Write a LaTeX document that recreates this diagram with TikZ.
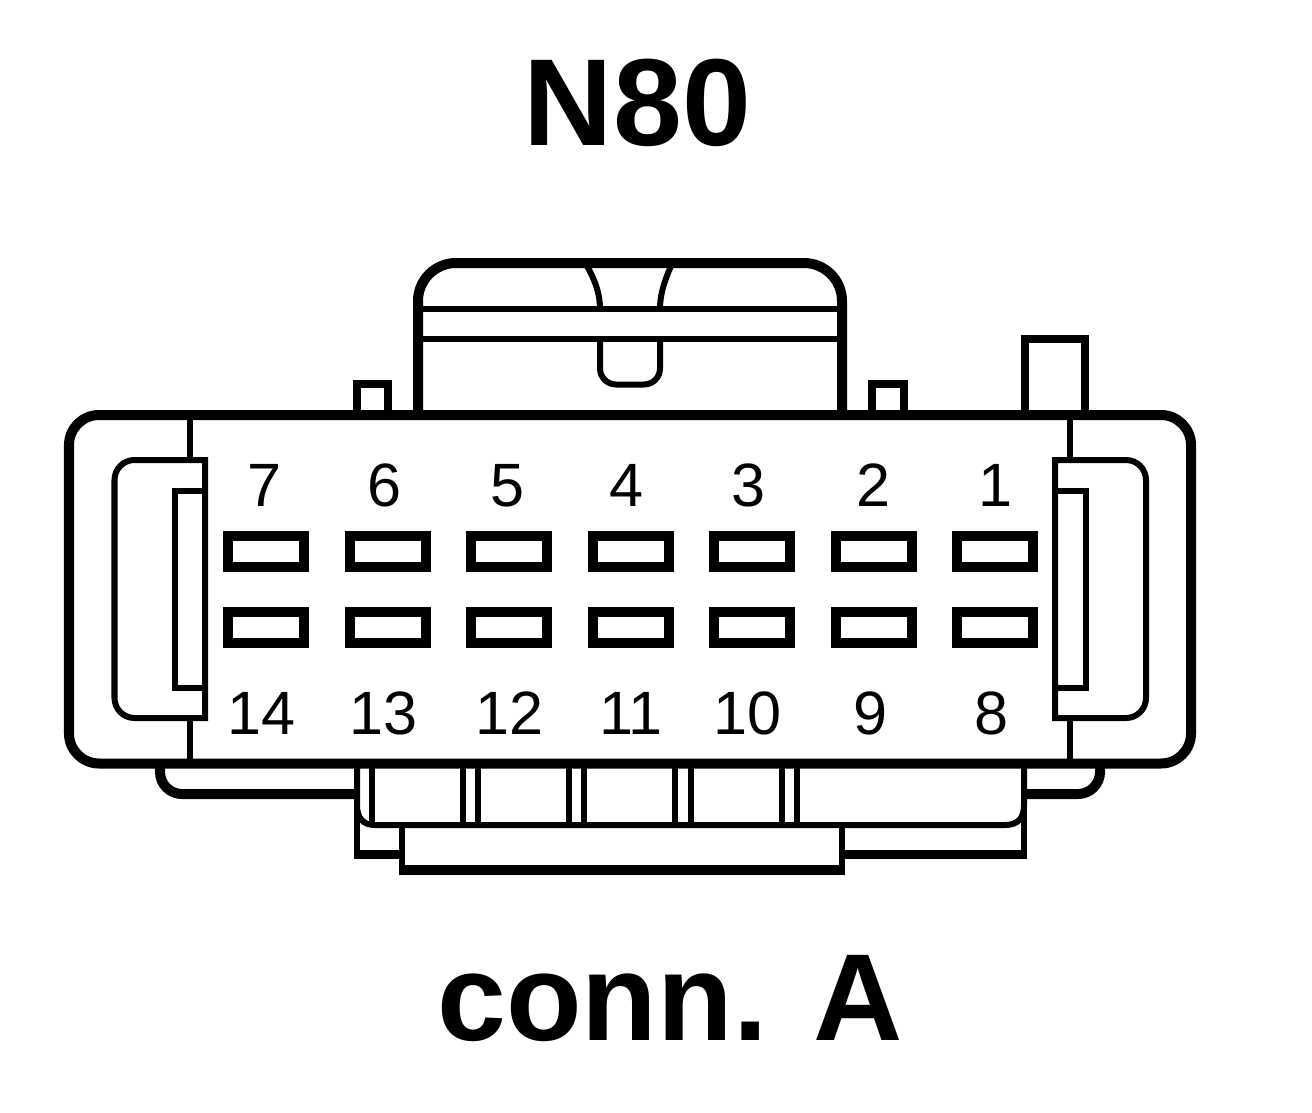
\documentclass[tikz,border=0pt]{standalone}
\usepackage{fontspec}
\setmainfont{Liberation Sans}
\usepackage{tikz}
\tikzset{
    thinline/.style={line width=0.06cm},
    heavyline/.style={line width=0.1cm},
    pinbox/.style={line width=0.1cm},
    pinlabel/.style={font=\fontsize{17.4}{20}\selectfont, anchor=base},
    titlelabel/.style={font=\fontsize{35.2}{40}\selectfont\bfseries, anchor=base}
}

\begin{document}
\begin{tikzpicture}[x=0.01cm, y=-0.01cm]
    \useasboundingbox (0,0) rectangle (1312,1112);

    % Titles
    \node[titlelabel] (title) at (637.5,145) {N80};
    \node[titlelabel] (connname) at (670,1040) {conn. A};

    % Latch housing on top
    \draw[heavyline, rounded corners=0.38cm] (418,415) -- (418,263) -- (842,263) -- (842,415);
    \draw[thinline] (418,309) -- (842,309);
    \draw[thinline] (418,339) -- (842,339);
    \draw[thinline] (587,266) .. controls (596,282) and (600,295) .. (600,309);
    \draw[thinline] (671,266) .. controls (664,282) and (660,295) .. (660,309);
    \draw[thinline, rounded corners=0.16cm] (600,339) -- (600,384.5) -- (660,384.5) -- (660,339);

    % Small tabs on top
    \foreach \x/\w in {356.5/31.5, 872/32} {
        \draw[line width=0.08cm] (\x,415) -- (\x,384) -- ++(\w,0) -- ++(0,31);
    }
    \draw[line width=0.08cm] (1025,415) -- (1025,339) -- (1085,339) -- (1085,415);

    % Main body
    \draw[heavyline, rounded corners=0.3cm] (69,415) rectangle (1191,763.5);
    \foreach \x in {190,1070} {
        \draw[thinline] (\x,415) -- (\x,460);
        \draw[thinline] (\x,718) -- (\x,763.5);
    }

    % Left clip
    \draw[thinline] (205,460) [rounded corners=0.2cm] -- (114.5,460) -- (114.5,718) [sharp corners] -- (205,718) -- cycle;
    \draw[thinline] (205,491) -- (175,491) -- (175,688) -- (205,688);

    % Right clip
    \draw[thinline] (1055,460) [rounded corners=0.2cm] -- (1146,460) -- (1146,718) [sharp corners] -- (1055,718) -- cycle;
    \draw[thinline] (1055,491) -- (1085.5,491) -- (1085.5,688) -- (1055,688);

    % Pin cavities, two rows
    \foreach \k in {0,...,6} {
        \draw[pinbox] (228+\k*121.5,536) rectangle ++(76,30.5);
        \draw[pinbox] (228+\k*121.5,612) rectangle ++(76,30.5);
    }

    % Pin numbers
    \foreach \x/\n in {265/7, 385/6, 508/5, 627/4, 749/3, 874/2, 996/1} {
        \node[pinlabel] (pin\n) at (\x,506) {\n};
    }
    \foreach \x/\n in {262/14, 384/13, 510/12, 631/11, 748/10, 871/9, 992/8} {
        \node[pinlabel] (pin\n) at (\x,734) {\n};
    }

    % Side brackets below the body
    \draw[heavyline, rounded corners=0.22cm] (160,763.5) -- (160,794) -- (357,794);
    \draw[heavyline, rounded corners=0.22cm] (1100,763.5) -- (1100,794) -- (1024,794);

    % Lower shroud
    \draw[thinline] (357,768) -- (357,805) .. controls (357,818) and (363,825) .. (375,825)
        -- (1005,825) .. controls (1018,825) and (1024,818) .. (1024,805) -- (1024,768);
    \foreach \x in {372,463,478,569,584,675,691,781.5,797} {
        \draw[thinline] (\x,768) -- (\x,825);
    }
    \draw[thinline] (357,790) -- (357,854.5);
    \draw[thinline] (1024,790) -- (1024,854.5);
    \draw[line width=0.09cm] (354,854.5) -- (402,854.5);
    \draw[line width=0.09cm] (842,854.5) -- (1027,854.5);

    % Bottom plate
    \draw[thinline] (402,825) -- (402,870);
    \draw[thinline] (842,825) -- (842,870);
    \draw[heavyline] (399,870) -- (845,870);
\end{tikzpicture}
\end{document}
